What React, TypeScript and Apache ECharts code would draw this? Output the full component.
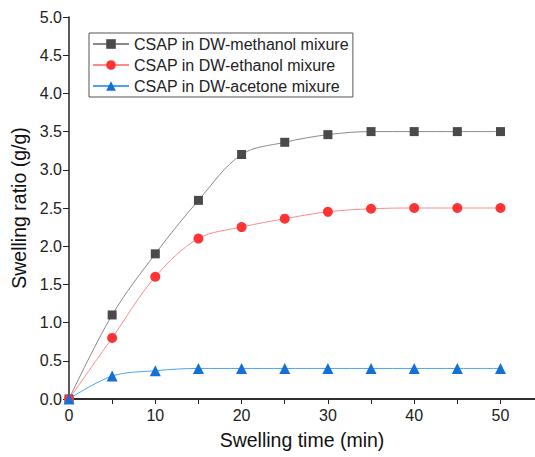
import React, { useEffect, useRef } from "react";
import * as echarts from "echarts";

const times = [0, 5, 10, 15, 20, 25, 30, 35, 40, 45, 50];
const methanol = [0, 1.1, 1.9, 2.6, 3.2, 3.36, 3.46, 3.5, 3.5, 3.5, 3.5];
const ethanol = [0, 0.8, 1.6, 2.1, 2.25, 2.36, 2.45, 2.49, 2.5, 2.5, 2.5];
const acetone = [0, 0.3, 0.37, 0.4, 0.4, 0.4, 0.4, 0.4, 0.4, 0.4, 0.4];
const seriesNames = [
  "CSAP in DW-methanol mixure",
  "CSAP in DW-ethanol mixure",
  "CSAP in DW-acetone mixure",
];
const xTicks = [0, 5, 10, 15, 20, 25, 30, 35, 40, 45, 50];
const xLabels = [0, 10, 20, 30, 40, 50];

const FONT = "'Liberation Sans', Arial, sans-serif";

export default function App() {
  const ref = useRef<HTMLDivElement>(null);
  useEffect(() => {
    if (!ref.current) return;
    const chart = echarts.init(ref.current, undefined, { renderer: "svg" });
    const pair = (ys: number[]) => times.map((t, i) => [t, ys[i]]);
    const mk = (
      name: string,
      ys: number[],
      symbol: string,
      size: number,
      lineColor: string,
      markColor: string
    ) => ({
      name,
      type: "line",
      data: pair(ys),
      smooth: 0.35,
      symbol,
      symbolSize: size,
      showAllSymbol: true,
      lineStyle: { color: lineColor, width: 1 },
      itemStyle: { color: markColor, borderWidth: 0 },
      emphasis: { disabled: true },
      z: 3,
    });
    chart.setOption({
      animation: false,
      textStyle: { fontFamily: FONT },
      grid: { left: 69, right: 0, top: 17, bottom: 58 },
      legend: {
        orient: "vertical",
        left: 89,
        top: 33,
        padding: [3, 4, 3, 3],
        itemWidth: 36,
        itemHeight: 12,
        itemGap: 5,
        borderColor: "#555",
        borderWidth: 1,
        textStyle: { fontSize: 16, color: "#222", fontFamily: FONT },
        data: seriesNames,
      },
      xAxis: [
        {
          type: "value",
          min: 0,
          max: 54,
          interval: 5,
          name: "Swelling time (min)",
          nameLocation: "middle",
          nameGap: 31,
          nameTextStyle: { fontSize: 19.5, color: "#111", fontFamily: FONT },
          axisLine: { show: true, onZero: false, lineStyle: { color: "#222", width: 1.5 } },
          axisTick: {
            show: true,
            inside: false,
            length: 5,
            customValues: xTicks,
            lineStyle: { color: "#222", width: 1 },
          },
          axisLabel: {
            fontSize: 16,
            color: "#222",
            margin: 8,
            customValues: xLabels,
            fontFamily: FONT,
          },
          splitLine: { show: false },
        },
        {
          type: "value",
          position: "top",
          min: 0,
          max: 54,
          axisLine: { show: true, lineStyle: { color: "#222", width: 1.5 } },
          axisTick: { show: false },
          axisLabel: { show: false },
          splitLine: { show: false },
        },
      ],
      yAxis: {
        type: "value",
        min: 0,
        max: 5,
        interval: 0.5,
        name: "Swelling ratio (g/g)",
        nameLocation: "middle",
        nameGap: 27,
        nameTextStyle: { fontSize: 19.5, color: "#111", fontFamily: FONT },
        axisLine: { show: true, lineStyle: { color: "#222", width: 1.5 } },
        axisTick: { show: true, inside: false, length: 6, lineStyle: { color: "#222", width: 1 } },
        axisLabel: {
          fontSize: 16,
          color: "#222",
          margin: 7,
          formatter: (v: number) => v.toFixed(1),
          fontFamily: FONT,
        },
        splitLine: { show: false },
      },
      series: [
        mk(seriesNames[0], methanol, "rect", 9, "#8a8a8a", "#4a4a4a"),
        mk(seriesNames[1], ethanol, "circle", 10, "#ff8a8a", "#ff3333"),
        mk(seriesNames[2], acetone, "triangle", 11, "#4aa3ef", "#1470d8"),
      ],
    });
    return () => chart.dispose();
  }, []);
  return (
    <div
      ref={ref}
      style={{ position: "fixed", left: 0, top: 0, width: 535, height: 457, background: "#fff" }}
    />
  );
}
